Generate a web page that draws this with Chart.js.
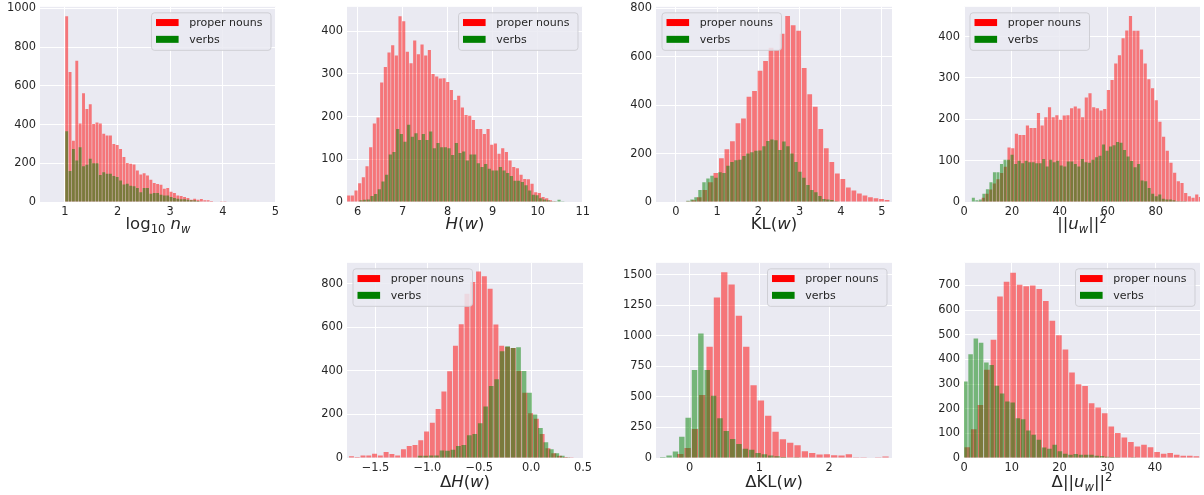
<!DOCTYPE html>
<html>
<head>
<meta charset="utf-8">
<script src="https://cdn.jsdelivr.net/npm/chart.js@4.4.0/dist/chart.umd.min.js"></script>
<style>
    body {
        margin: 0;
        width: 1204px;
        height: 495px;
        background: #ffffff;
        position: relative;
        overflow: hidden;
        font-family: 'DejaVu Sans', sans-serif;
    }
    canvas { position: absolute; }
    .xlabel {
        position: absolute;
        font-size: 16.5px;
        line-height: 20px;
        color: #262626;
        white-space: nowrap;
        transform: translateX(-50%);
    }
    .xlabel sub, .xlabel sup { font-size: 70%; line-height: 0; }
</style>
</head>
<body>
<script>
// ==================== DATA ====================
// every histogram: [first bin edge, bin width] + counts per bin

// log10 n_w
const nwNounsBins = [1.0, 0.064];
const nwNouns = [960, 672, 317, 730, 406, 562, 480, 505, 403, 410, 405, 352, 343, 343, 300, 295, 274, 232, 202, 197,
    194, 163, 142, 149, 137, 115, 98, 93, 89, 69, 72, 53, 46, 34, 31, 26, 21, 12, 17, 12, 15, 9, 9, 5, 3, 2, 1, 1];
const nwVerbsBins = [1.0, 0.064];
const nwVerbs = [365, 160, 274, 214, 283, 185, 192, 223, 200, 200, 140, 154, 146, 146, 134, 129, 111, 91, 94, 84,
    81, 72, 51, 72, 72, 43, 46, 46, 38, 34, 34, 26, 21, 17, 14, 14, 12, 9, 9, 5, 3, 2];
const nwTicksX = [1, 2, 3, 4, 5];
const nwTicksY = [0, 200, 400, 600, 800, 1000];

// H(w)
const hNounsBins = [5.759, 0.0815];
const hNouns = [15, 15, 27, 44, 58, 84, 128, 184, 198, 280, 316, 350, 367, 343, 435, 423, 352, 325, 378, 346,
    369, 343, 356, 300, 294, 289, 290, 281, 262, 239, 249, 221, 204, 202, 192, 171, 171, 159, 171, 134,
    137, 113, 126, 117, 97, 82, 79, 64, 54, 53, 43, 23, 21, 12, 9, 4, 2];
const hVerbsBins = [6.033, 0.0815];
const hVerbs = [4, 5, 6, 14, 19, 30, 48, 64, 111, 117, 171, 159, 141, 181, 153, 161, 145, 159, 145, 165,
    126, 138, 128, 128, 126, 110, 138, 115, 118, 97, 111, 111, 91, 82, 89, 78, 74, 74, 82, 74,
    68, 61, 50, 50, 47, 39, 27, 17, 16, 9, 6, 4, 2, 2, 5, 2];
const hTicksX = [6, 7, 8, 9, 10, 11];
const hTicksY = [0, 100, 200, 300, 400];

// KL(w)
const klNounsBins = [0.231, 0.134];
const klNouns = [3, 7, 20, 50, 82, 120, 181, 218, 251, 325, 345, 435, 458, 542, 582, 637, 628, 695, 768, 730,
    707, 553, 445, 393, 302, 222, 165, 118, 95, 60, 48, 35, 27, 20, 15, 12, 8];
const klVerbsBins = [0.1465, 0.097];
const klVerbs = [2, 5, 10, 20, 50, 82, 97, 108, 100, 123, 120, 150, 165, 172, 175, 190, 200, 205, 212, 213,
    230, 252, 258, 255, 215, 250, 230, 200, 165, 125, 100, 70, 50, 40, 25, 12, 10, 8, 3, 2];
const klTicksX = [0, 1, 2, 3, 4, 5];
const klTicksY = [0, 200, 400, 600, 800];

// ||u_w||^2
const uNounsBins = [5.742, 1.536];
const uNouns = [2, 10, 20, 30, 45, 55, 70, 85, 132, 130, 165, 162, 162, 185, 179, 179, 215, 185, 205, 229,
    205, 210, 199, 209, 210, 227, 231, 226, 205, 253, 263, 229, 227, 221, 225, 271, 295, 335, 355, 396,
    415, 450, 414, 414, 369, 335, 297, 275, 246, 194, 158, 124, 95, 71, 50, 46, 22, 14, 10, 18, 12];
const uVerbsBins = [3.166, 1.468];
const uVerbs = [10, 4, 6, 20, 31, 48, 72, 72, 92, 102, 102, 114, 92, 100, 94, 100, 96, 96, 94, 94,
    104, 86, 102, 96, 100, 88, 86, 98, 98, 92, 86, 104, 96, 95, 102, 108, 112, 139, 124, 134,
    137, 145, 143, 126, 110, 99, 84, 92, 52, 50, 34, 20, 14, 18, 8, 6, 6, 4, 2, 2, 2, 1];
const uTicksX = [0, 20, 40, 60, 80];
const uTicksY = [0, 100, 200, 300, 400];

// delta H(w)
const dhNounsBins = [-1.76, 0.0557];
const dhNouns = [8, 5, 12, 11, 20, 12, 28, 18, 12, 40, 55, 60, 82, 122, 162, 225, 305, 398, 515, 614,
    754, 808, 856, 834, 777, 613, 515, 510, 505, 400, 300, 205, 180, 110, 45, 22, 10, 5, 3, 2];
const dhVerbsBins = [-1.0964, 0.0527];
const dhVerbs = [10, 10, 12, 12, 35, 33, 38, 55, 60, 105, 110, 160, 237, 330, 362, 490, 513, 505, 508, 400,
    300, 200, 138, 72, 40, 22, 10, 4];
const dhTicksX = [-1.5, -1.0, -0.5, 0.0, 0.5];
const dhTicksY = [0, 200, 400, 600, 800];

// delta KL(w)
const dklNounsBins = [-0.1855, 0.105];
const dklNouns = [33, 82, 237, 516, 910, 1315, 1520, 1420, 1165, 910, 595, 470, 345, 215, 153, 125, 105, 55, 40, 28,
    30, 22, 20, 30, 3, 2, 4, 2, 12];
const dklVerbsBins = [-0.4295, 0.091];
const dklVerbs = [8, 20, 54, 175, 330, 720, 1020, 720, 510, 325, 222, 155, 115, 75, 68, 40, 30, 20, 14, 8, 5, 3];
const dklTicksX = [0, 1, 2];
const dklTicksY = [0, 250, 500, 750, 1000, 1250, 1500];

// delta ||u_w||^2
const duNounsBins = [0, 1.37];
const duNouns = [44, 117, 215, 358, 480, 655, 715, 752, 703, 697, 700, 686, 637, 557, 498, 440, 347, 299, 292, 222,
    205, 182, 128, 101, 83, 65, 47, 54, 44, 24, 17, 20, 13, 9, 9, 7];
const duVerbsBins = [-0.27, 1.1];
const duVerbs = [310, 421, 485, 468, 388, 377, 293, 262, 229, 225, 161, 157, 112, 94, 74, 43, 38, 54, 27, 17,
    13, 16, 13, 13, 13, 9, 8, 5, 4, 3, 2, 2, 1];
const duTicksX = [0, 10, 20, 30, 40];
const duTicksY = [0, 100, 200, 300, 400, 500, 600, 700];

const seriesNames = ['proper nouns', 'verbs'];
const legendSwatches = ['#ff0000', '#008000'];

// ==================== LAYOUT ====================
const PLOT_W = 236, PLOT_H = 196;
const AXIS_W = 40, AXIS_H = 20, PAD_T = 10, PAD_R = 14;

Chart.defaults.font.family = "'DejaVu Sans', sans-serif";
Chart.defaults.color = '#262626';

function toPoints(bins, counts) {
    return counts.map((c, i) => ({ x: bins[0] + bins[1] * (i + 0.5), y: c }));
}

const intLabel = v => String(v);
const decLabel = v => v.toFixed(1).replace('-', '\u2212');

const panels = [
    { left: 40, top: 6, xMin: 0.525, xMax: 5.01, yMax: 1008, ticksX: nwTicksX, ticksY: nwTicksY,
      nouns: toPoints(nwNounsBins, nwNouns), verbs: toPoints(nwVerbsBins, nwVerbs), legend: 'right',
      fmtX: intLabel, label: 'log<sub>10</sub> <i>n<sub>w</sub></i>', labelTop: 213.6 },
    { left: 347, top: 6, xMin: 5.762, xMax: 11.007, yMax: 457, ticksX: hTicksX, ticksY: hTicksY,
      nouns: toPoints(hNounsBins, hNouns), verbs: toPoints(hVerbsBins, hVerbs), legend: 'right',
      fmtX: intLabel, label: '<i>H</i>(<i>w</i>)', labelTop: 213.6 },
    { left: 656, top: 6, xMin: -0.485, xMax: 5.243, yMax: 806, ticksX: klTicksX, ticksY: klTicksY,
      nouns: toPoints(klNounsBins, klNouns), verbs: toPoints(klVerbsBins, klVerbs), legend: 'left',
      fmtX: intLabel, label: 'KL(<i>w</i>)', labelTop: 213.6 },
    { left: 964, top: 6, xMin: 0, xMax: 98.5, yMax: 472, ticksX: uTicksX, ticksY: uTicksY,
      nouns: toPoints(uNounsBins, uNouns), verbs: toPoints(uVerbsBins, uVerbs), legend: 'left',
      fmtX: intLabel, label: '||<i>u<sub>w</sub></i>||<sup>2</sup>', labelTop: 213.6 },
    { left: 347, top: 262, xMin: -1.775, xMax: 0.5, yMax: 896, ticksX: dhTicksX, ticksY: dhTicksY,
      nouns: toPoints(dhNounsBins, dhNouns), verbs: toPoints(dhVerbsBins, dhVerbs), legend: 'left',
      fmtX: decLabel, label: '\u0394<i>H</i>(<i>w</i>)', labelTop: 471.6 },
    { left: 656, top: 262, xMin: -0.481, xMax: 2.90, yMax: 1598, ticksX: dklTicksX, ticksY: dklTicksY,
      nouns: toPoints(dklNounsBins, dklNouns), verbs: toPoints(dklVerbsBins, dklVerbs), legend: 'right',
      fmtX: intLabel, label: '\u0394KL(<i>w</i>)', labelTop: 471.6 },
    { left: 964, top: 262, xMin: 0, xMax: 49.4, yMax: 792, ticksX: duTicksX, ticksY: duTicksY,
      nouns: toPoints(duNounsBins, duNouns), verbs: toPoints(duVerbsBins, duVerbs), legend: 'right',
      fmtX: intLabel, label: '\u0394||<i>u<sub>w</sub></i>||<sup>2</sup>', labelTop: 471.6 }
];

// ==================== PLUGINS ====================
const plotBackground = {
    id: 'plotBackground',
    beforeDraw(chart) {
        const { ctx, chartArea: a } = chart;
        ctx.save();
        ctx.fillStyle = '#eaeaf2';
        ctx.fillRect(a.left, a.top, a.right - a.left, a.bottom - a.top);
        ctx.restore();
    }
};

// matplotlib style legend box inside the axes
const boxLegend = {
    id: 'boxLegend',
    afterDraw(chart, args, opts) {
        const { ctx, chartArea: a } = chart;
        const w = 119.5, h = 37.5, inset = 5.5;
        const x = opts.side === 'left' ? a.left + inset : a.right - inset - w;
        const y = a.top + inset;
        ctx.save();
        ctx.beginPath();
        ctx.roundRect(x + 0.5, y + 0.5, w, h, 3);
        ctx.fillStyle = 'rgba(234, 234, 242, 0.85)';
        ctx.fill();
        ctx.strokeStyle = 'rgba(204, 204, 210, 0.9)';
        ctx.lineWidth = 1;
        ctx.stroke();
        ctx.font = "11px 'DejaVu Sans', sans-serif";
        ctx.textBaseline = 'middle';
        seriesNames.forEach((name, i) => {
            const cy = y + 10.2 + i * 16.8;
            ctx.fillStyle = legendSwatches[i];
            ctx.fillRect(x + 5, cy - 3.5, 22.6, 7);
            ctx.fillStyle = '#262626';
            ctx.fillText(name, x + 38.3, cy + 0.5);
        });
        ctx.restore();
    }
};

// ==================== CHARTS ====================
function makePanel(p) {
    const canvas = document.createElement('canvas');
    canvas.width = AXIS_W + PLOT_W + PAD_R;
    canvas.height = PAD_T + PLOT_H + AXIS_H;
    canvas.style.left = (p.left - AXIS_W) + 'px';
    canvas.style.top = (p.top - PAD_T) + 'px';
    canvas.style.width = canvas.width + 'px';
    canvas.style.height = canvas.height + 'px';
    document.body.appendChild(canvas);

    const setTicks = list => axis => { axis.ticks = list.map(v => ({ value: v })); };
    const grid = { color: '#ffffff', lineWidth: 1, drawTicks: false, offset: false };
    const tickFont = { size: 11.4 };

    new Chart(canvas.getContext('2d'), {
        type: 'bar',
        data: {
            datasets: [
                {
                    label: seriesNames[0],
                    data: p.nouns,
                    xAxisID: 'x',
                    backgroundColor: 'rgba(255, 0, 0, 0.5)',
                    order: 1
                },
                {
                    label: seriesNames[1],
                    data: p.verbs,
                    xAxisID: 'x2',
                    backgroundColor: 'rgba(0, 128, 0, 0.5)',
                    order: 0
                }
            ]
        },
        options: {
            responsive: false,
            animation: false,
            devicePixelRatio: 1,
            layout: { padding: { top: PAD_T, right: PAD_R, left: 0, bottom: 0 } },
            datasets: { bar: { barPercentage: 0.86, categoryPercentage: 1, grouped: false } },
            plugins: {
                legend: { display: false },
                tooltip: { enabled: false },
                boxLegend: { side: p.legend }
            },
            scales: {
                x: {
                    type: 'linear',
                    min: p.xMin,
                    max: p.xMax,
                    offset: false,
                    grid: grid,
                    border: { display: false },
                    ticks: {
                        font: tickFont,
                        color: '#262626',
                        padding: 3,
                        autoSkip: false,
                        maxRotation: 0,
                        callback: v => p.fmtX(v)
                    },
                    afterBuildTicks: setTicks(p.ticksX),
                    afterFit: axis => { axis.height = AXIS_H; }
                },
                x2: {
                    type: 'linear',
                    display: false,
                    min: p.xMin,
                    max: p.xMax,
                    offset: false,
                    grid: { display: false, offset: false },
                    ticks: { display: false },
                    afterBuildTicks: setTicks(p.ticksX),
                    afterFit: axis => { axis.height = 0; }
                },
                y: {
                    min: 0,
                    max: p.yMax,
                    grid: grid,
                    border: { display: false },
                    ticks: {
                        font: tickFont,
                        color: '#262626',
                        padding: 4,
                        autoSkip: false,
                        callback: v => String(v)
                    },
                    afterBuildTicks: setTicks(p.ticksY),
                    afterFit: axis => { axis.width = AXIS_W; }
                }
            }
        },
        plugins: [plotBackground, boxLegend]
    });

    const label = document.createElement('div');
    label.className = 'xlabel';
    label.innerHTML = p.label;
    label.style.left = (p.left + PLOT_W / 2) + 'px';
    label.style.top = p.labelTop + 'px';
    document.body.appendChild(label);
}

panels.forEach(makePanel);
</script>
</body>
</html>
